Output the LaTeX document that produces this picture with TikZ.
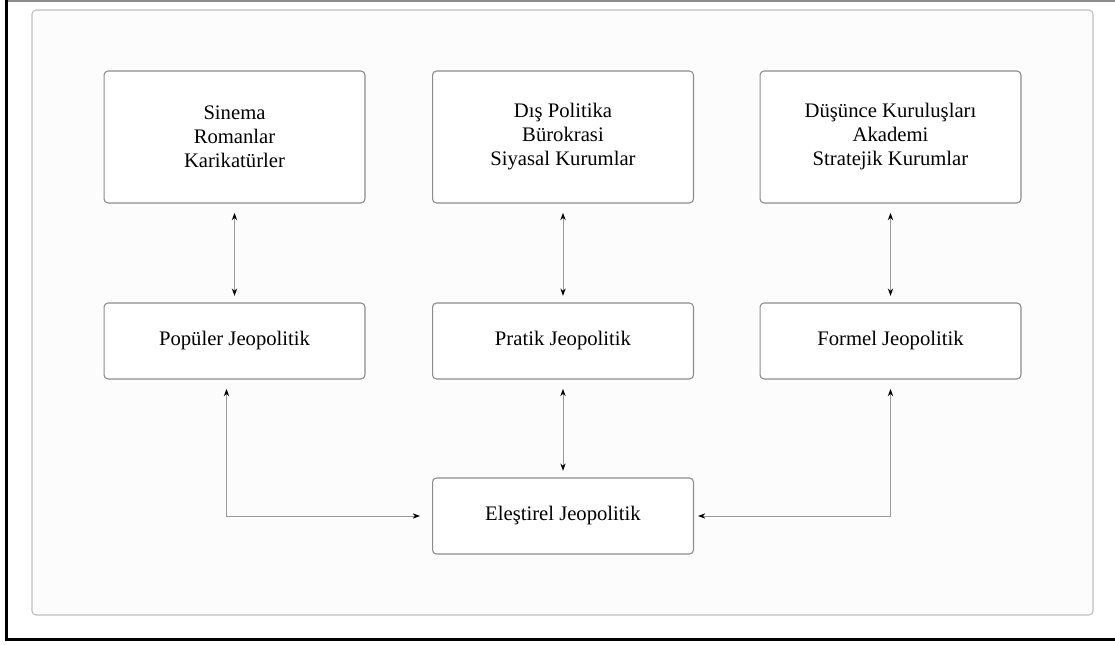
\documentclass[tikz,border=0pt]{standalone}
\usepackage{fontspec}
\setmainfont{Liberation Serif}
\usetikzlibrary{arrows.meta}
\tikzset{every node/.style={font=\fontsize{15.5}{18}\selectfont},
  kutu/.style={draw=black!45,line width=0.8pt,rounded corners=3pt,fill=white,
    align=center,inner sep=0pt},
  ustkutu/.style={kutu,minimum width=195.7pt,minimum height=99pt},
  altkutu/.style={kutu,minimum width=195.7pt,minimum height=57pt},
  ok/.style={draw=black!40,line width=0.75pt,
    {Stealth[length=5.5pt,width=4pt,color=black]}-{Stealth[length=5.5pt,width=4pt,color=black]}}}
\begin{document}
\begin{tikzpicture}[x=0.75pt,y=-0.75pt]
\useasboundingbox (0,0) rectangle (1115,644);
% frame
\draw[black!45,line width=1pt] (6,1) -- (1115,1);
\draw[line width=1.6pt] (6.5,0) -- (6.5,639.5) -- (1115,639.5);
\draw[black!25,line width=0.8pt,fill=black!1,rounded corners=3pt] (32,10) rectangle (1093,615);
% top row
\node[ustkutu] (sin) at (234.5,137) {Sinema\\Romanlar\\Karikatürler};
\node[ustkutu] (dis) at (563,137) {Dış Politika\\Bürokrasi\\Siyasal Kurumlar};
\node[ustkutu] (dus) at (890.5,137) {Düşünce Kuruluşları\\Akademi\\Stratejik Kurumlar};
% middle row
\node[altkutu] (pop) at (234.5,341) {Popüler Jeopolitik};
\node[altkutu] (pra) at (563,341) {Pratik Jeopolitik};
\node[altkutu] (for) at (890.5,341) {Formel Jeopolitik};
% bottom
\node[altkutu] (ele) at (563,516) {Eleştirel Jeopolitik};
\foreach \a/\b in {sin/pop,dis/pra,dus/for,pra/ele}
  \draw[ok,shorten <=7pt,shorten >=5pt] (\a.south) -- (\b.north);
\draw[ok,shorten <=7pt,shorten >=9pt] ([xshift=-6pt]pop.south) |- (ele.west);
\draw[ok,shorten <=7pt,shorten >=3pt] (for.south) |- (ele.east);
\end{tikzpicture}
\end{document}
